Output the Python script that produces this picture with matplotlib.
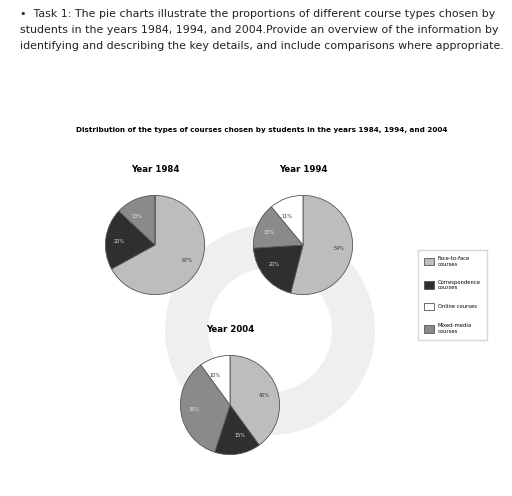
import matplotlib
matplotlib.use("Agg")
import matplotlib.pyplot as plt
from matplotlib.patches import Patch

categories = ["Face-to-face\ncourses", "Correspondence\ncourses", "Online courses", "Mixed-media\ncourses"]
colors = ["#bdbdbd", "#2f2f2f", "#ffffff", "#8a8a8a"]
years = ["Year 1984", "Year 1994", "Year 2004"]
shares = {
    "Year 1984": [67, 20, 0, 13],
    "Year 1994": [54, 20, 11, 15],
    "Year 2004": [40, 15, 10, 35],
}
label_colors = ["#333333", "#dddddd", "#333333", "#eeeeee"]
# clockwise drawing order from 12 o'clock: face-to-face, correspondence, mixed-media, online
draw_order = [0, 1, 3, 2]

W, H = 512, 496
fig = plt.figure(figsize=(W / 100, H / 100), dpi=100)

task = ("•  Task 1: The pie charts illustrate the proportions of different course types chosen by\n"
        "students in the years 1984, 1994, and 2004.Provide an overview of the information by\n"
        "identifying and describing the key details, and include comparisons where appropriate.")
fig.text(20 / W, 1 - 9 / H, task, fontsize=7.9, va="top", ha="left", linespacing=1.75, color="#222222")
fig.text(262 / W, 1 - 130 / H,
         "Distribution of the types of courses chosen by students in the years 1984, 1994, and 2004",
         fontsize=5.2, fontweight="bold", ha="center", va="center")

# faint background watermark
bg = fig.add_axes([0, 0, 1, 1], zorder=-1)
bg.set_xlim(0, W); bg.set_ylim(H, 0); bg.axis("off")
bg.add_patch(plt.Circle((270, 330), 105, color="#efefef", lw=0))
bg.add_patch(plt.Circle((270, 330), 62, color="white", lw=0))

centres = {"Year 1984": (155, 245), "Year 1994": (303, 245), "Year 2004": (230, 405)}
R = 62
for yr in years:
    cx, cy = centres[yr]
    ax = fig.add_axes([(cx - R) / W, 1 - (cy + R) / H, 2 * R / W, 2 * R / H])
    vals = [shares[yr][i] for i in draw_order]
    cols = [colors[i] for i in draw_order]
    lcols = [label_colors[i] for i in draw_order]
    wedges, texts = ax.pie(vals, colors=cols, startangle=90, counterclock=False,
                           wedgeprops=dict(edgecolor="#555555", linewidth=0.6),
                           labels=[f"{v}%" if v else "" for v in vals], labeldistance=0.62,
                           textprops=dict(fontsize=3.6))
    for t, c in zip(texts, lcols):
        t.set_color(c)
    ax.set_aspect("equal")
    ax.set_title(yr, fontsize=6.2, fontweight="bold", pad=8)

lax = fig.add_axes([400 / W, 1 - 347 / H, 105 / W, 104 / H])
lax.axis("off")
handles = [Patch(facecolor=c, edgecolor="#555555", linewidth=0.6) for c in colors]
lax.legend(handles, categories, loc="center", fontsize=3.8, frameon=True, edgecolor="#cccccc",
           labelspacing=2.4, handlelength=1.8, handleheight=1.8, borderpad=1.2, fancybox=False)

fig.savefig("out.png", dpi=100)
